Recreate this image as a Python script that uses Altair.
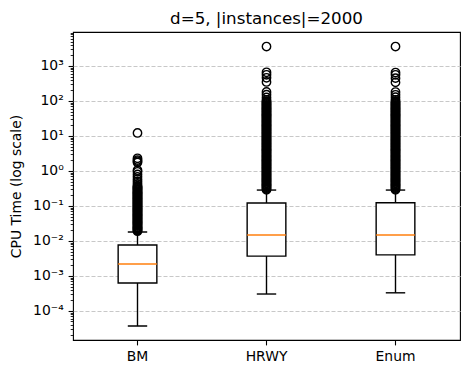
import altair as alt
import pandas as pd

categories = ["BM", "HRWY", "Enum"]
whisk_lo = [3.7e-5, 3.05e-4, 3.3e-4]
q1 = [6.3e-4, 3.7e-3, 4.0e-3]
median = [2.2e-3, 1.48e-2, 1.48e-2]
q3 = [7.7e-3, 0.122, 0.124]
whisk_hi = [0.018, 0.285, 0.285]

fliers_bm = [0.019, 0.02, 0.021, 0.022, 0.023, 0.024, 0.025, 0.0265, 0.028, 0.0295,
             0.031, 0.0325, 0.034, 0.0355, 0.037, 0.039, 0.041, 0.043, 0.045, 0.0475,
             0.05, 0.0525, 0.055, 0.0575, 0.06, 0.063, 0.066, 0.0695, 0.073, 0.0765,
             0.08, 0.084, 0.088, 0.0925, 0.097, 0.102, 0.107, 0.1125, 0.118, 0.124,
             0.13, 0.1365, 0.143, 0.15, 0.157, 0.165, 0.173, 0.181, 0.19, 0.2,
             0.21, 0.22, 0.23, 0.24, 0.25, 0.265, 0.28, 0.295, 0.31, 0.325, 0.34, 0.36,
             0.38, 0.43, 0.5, 0.58, 0.68, 0.8, 0.95, 1.05, 1.75, 1.9, 2.05, 2.3, 12.2]
fliers_hrwy = [0.29, 0.31, 0.33, 0.35, 0.37, 0.39, 0.41, 0.435, 0.46, 0.49, 0.52,
               0.55, 0.58, 0.615, 0.65, 0.69, 0.73, 0.775, 0.82, 0.87, 0.92, 0.975,
               1.03, 1.1, 1.16, 1.23, 1.3, 1.38, 1.46, 1.55, 1.64, 1.74, 1.84, 1.95,
               2.06, 2.18, 2.31, 2.45, 2.6, 2.75, 2.9, 3.1, 3.3, 3.5, 3.7, 3.9, 4.1,
               4.35, 4.6, 4.9, 5.2, 5.5, 5.8, 6.15, 6.5, 6.9, 7.3, 7.75, 8.2, 8.7,
               9.2, 9.75, 10.3, 11, 11.6, 12.3, 13, 13.8, 14.6, 15.5, 16.4, 17.4,
               18.4, 19.5, 20.6, 21.8, 23.1, 24.5, 26, 27.5, 29, 31, 33, 35, 37, 39,
               41, 43.5, 46, 49, 52, 55, 58, 61.5, 65, 69, 73, 77.5, 82, 87, 92, 97,
               107, 126, 151, 182, 350, 460, 560, 660, 3600]
fliers_enum = [0.29, 0.31, 0.33, 0.35, 0.37, 0.39, 0.41, 0.435, 0.46, 0.49, 0.52,
               0.55, 0.58, 0.615, 0.65, 0.69, 0.73, 0.775, 0.82, 0.87, 0.92, 0.975,
               1.03, 1.1, 1.16, 1.23, 1.3, 1.38, 1.46, 1.55, 1.64, 1.74, 1.84, 1.95,
               2.06, 2.18, 2.31, 2.45, 2.6, 2.75, 2.9, 3.1, 3.3, 3.5, 3.7, 3.9, 4.1,
               4.35, 4.6, 4.9, 5.2, 5.5, 5.8, 6.15, 6.5, 6.9, 7.3, 7.75, 8.2, 8.7,
               9.2, 9.75, 10.3, 11, 11.6, 12.3, 13, 13.8, 14.6, 15.5, 16.4, 17.4,
               18.4, 19.5, 20.6, 21.8, 23.1, 24.5, 26, 27.5, 29, 31, 33, 35, 37, 39,
               41, 43.5, 46, 49, 52, 55, 58, 61.5, 65, 69, 73, 77.5, 82, 87, 92, 97,
               108, 128, 150, 180, 340, 450, 560, 650, 3600]

major_ticks = [1e-4, 1e-3, 1e-2, 1e-1, 1e0, 1e1, 1e2, 1e3]
major_labels = ["10⁻⁴", "10⁻³", "10⁻²", "10⁻¹", "10⁰", "10¹", "10²", "10³"]
minor_ticks = [m * 10.0 ** e for e in range(-5, 4) for m in range(2, 10)]

box_df = pd.DataFrame({"cat": categories, "lo": whisk_lo, "q1": q1,
                       "med": median, "q3": q3, "hi": whisk_hi})
flier_df = pd.DataFrame({
    "cat": ["BM"] * len(fliers_bm) + ["HRWY"] * len(fliers_hrwy) + ["Enum"] * len(fliers_enum),
    "v": fliers_bm + fliers_hrwy + fliers_enum,
})

FONT = "DejaVu Sans"
label_arr = "[" + ",".join("'" + s + "'" for s in major_labels) + "]"
is_major = "abs(log(datum.value)/LN10 - round(log(datum.value)/LN10)) < 1e-6"
label_expr = f"({is_major}) ? {label_arr}[round(log(datum.value)/LN10)+4] : ''"

yscale = alt.Scale(type="log", domain=[1.48e-5, 9360], nice=False)
xscale = alt.Scale(domain=categories, paddingInner=0, paddingOuter=0)

yaxis = alt.Axis(
    values=major_ticks + minor_ticks,
    labelExpr=label_expr,
    labelOverlap=False,
    labelFontSize=13.9,
    labelColor="black",
    labelPadding=4.9,
    tickColor="black",
    tickSize={"condition": {"test": is_major, "value": 4.9}, "value": 2.8},
    tickWidth={"condition": {"test": is_major, "value": 1.1}, "value": 0.85},
    grid=True,
    gridColor="#c8c8c8",
    gridDash=[4, 2],
    gridWidth=1.1,
    gridOpacity={"condition": {"test": is_major, "value": 1}, "value": 0},
    domain=False,
    title="CPU Time (log scale)",
    titleFontSize=13.9,
    titleFontWeight="normal",
    titleColor="black",
    titlePadding=9,
)
xaxis = alt.Axis(
    labelAngle=0, labelFontSize=13.9, labelColor="black", labelPadding=4.9,
    tickColor="black", tickSize=4.9, tickWidth=1.1, domain=False, grid=False, title=None,
)

base = alt.Chart(box_df)
x_enc = alt.X("cat:N", scale=xscale, axis=xaxis, sort=categories)

lower = base.mark_rule(color="black", strokeWidth=1.4).encode(
    x=x_enc, y=alt.Y("lo:Q", scale=yscale, axis=yaxis), y2="q1:Q")
upper = base.mark_rule(color="black", strokeWidth=1.4).encode(
    x=x_enc, y=alt.Y("q3:Q", scale=yscale), y2="hi:Q")
cap_lo = base.mark_tick(color="black", size=19.4, thickness=1.4, opacity=1).encode(
    x=x_enc, y=alt.Y("lo:Q", scale=yscale))
cap_hi = base.mark_tick(color="black", size=19.4, thickness=1.4, opacity=1).encode(
    x=x_enc, y=alt.Y("hi:Q", scale=yscale))
box = base.mark_bar(fill="white", stroke="black", strokeWidth=1.4, width=38.7).encode(
    x=x_enc, y=alt.Y("q1:Q", scale=yscale), y2="q3:Q")
med = base.mark_tick(color="#ff7f0e", size=38.7, thickness=1.3, opacity=1).encode(
    x=x_enc, y=alt.Y("med:Q", scale=yscale))
fl = alt.Chart(flier_df).mark_point(
    shape="circle", filled=False, color="black", size=70, strokeWidth=1.4, opacity=1
).encode(x=x_enc, y=alt.Y("v:Q", scale=yscale))

chart = alt.layer(lower, upper, box, cap_lo, cap_hi, med, fl).properties(
    width=387, height=308,
    title=alt.Title("d=5, |instances|=2000", fontSize=16.7, fontWeight="normal",
                    color="black", font=FONT, offset=-2),
    padding={"left": 65, "top": 24, "right": 2, "bottom": 26},
    autosize=alt.AutoSizeParams(type="none"),
).configure(font=FONT).configure_view(stroke="black", strokeWidth=1.1)

chart.save("out.html", embed_options={"renderer": "svg", "actions": False})
